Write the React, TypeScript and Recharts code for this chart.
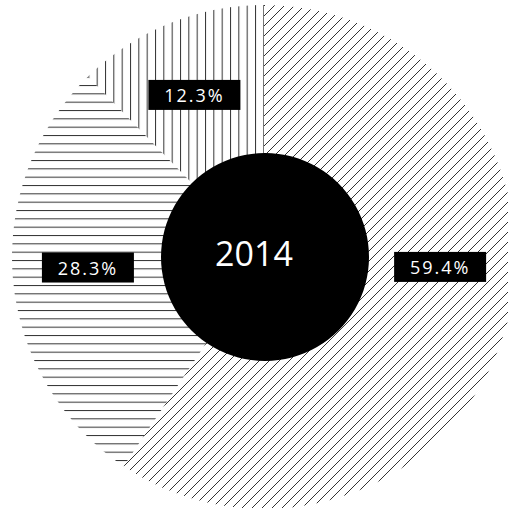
import React from 'react';
import { PieChart, Pie, Cell, Label } from 'recharts';

const categories = ['A', 'B', 'C'];
const shares = [59.4, 28.3, 12.3];
const yearLabel = '2014';

const patternIds = ['hatch-diag', 'hatch-horiz', 'hatch-vert'];
// small angular nudges so the labels sit where the original placed them
const labelAngleShift = [13.7, -1.8, 1.1];

const RADIAN = Math.PI / 180;

const sliceData = categories.map((name, i) => ({ name, value: shares[i] }));
const centerData = [{ name: yearLabel, value: 1 }];

const renderLabel = (props: any) => {
  const { cx, cy, midAngle, outerRadius, index, value } = props;
  const angle = midAngle + labelAngleShift[index];
  const r = outerRadius * 0.7;
  const x = cx + r * Math.cos(-angle * RADIAN);
  const y = cy + r * Math.sin(-angle * RADIAN);
  const w = 92;
  const h = 30;
  return (
    <g key={`lbl-${index}`}>
      <rect x={x - w / 2} y={y - h / 2} width={w} height={h} fill="#000" />
      <text
        x={x}
        y={y}
        fill="#fff"
        fontSize={18}
        letterSpacing={2}
        textAnchor="middle"
        dominantBaseline="central"
        fontFamily="'Open Sans', sans-serif"
      >
        {`${Number(value).toFixed(1)}%`}
      </text>
    </g>
  );
};

const App: React.FC = () => {
  const step = 25 / 3;
  return (
    <div style={{ position: 'absolute', left: 0, top: 0, width: 508, height: 508, background: '#fff' }}>
      <PieChart width={508} height={508} margin={{ top: 0, right: 0, bottom: 0, left: 0 }}>
        <defs>
          <pattern id="hatch-diag" patternUnits="userSpaceOnUse" width={10} height={10}>
            <path d="M-1,1 L1,-1 M0,10 L10,0 M9,11 L11,9" stroke="#333" strokeWidth={1} />
          </pattern>
          <pattern id="hatch-horiz" patternUnits="userSpaceOnUse" width={step} height={step} y={1.67}>
            <line x1={0} y1={0.5} x2={step} y2={0.5} stroke="#333" strokeWidth={1} />
          </pattern>
          <pattern id="hatch-vert" patternUnits="userSpaceOnUse" width={step} height={step} x={5}>
            <line x1={0.5} y1={0} x2={0.5} y2={step} stroke="#333" strokeWidth={1} />
          </pattern>
        </defs>
        <Pie
          data={sliceData}
          dataKey="value"
          cx={264}
          cy={257}
          outerRadius={252}
          startAngle={90}
          endAngle={-270}
          stroke="none"
          labelLine={false}
          label={renderLabel}
          isAnimationActive={false}
        >
          {sliceData.map((entry, i) => (
            <Cell key={`cell-${entry.name}`} fill={`url(#${patternIds[i]})`} />
          ))}
        </Pie>
        <Pie
          data={centerData}
          dataKey="value"
          cx={265}
          cy={257}
          outerRadius={104}
          fill="#000"
          stroke="none"
          isAnimationActive={false}
        >
          <Label
            value={yearLabel}
            position="center"
            fill="#fff"
            fontSize={34}
            fontFamily="'Open Sans', sans-serif"
          />
        </Pie>
      </PieChart>
    </div>
  );
};

export default App;
